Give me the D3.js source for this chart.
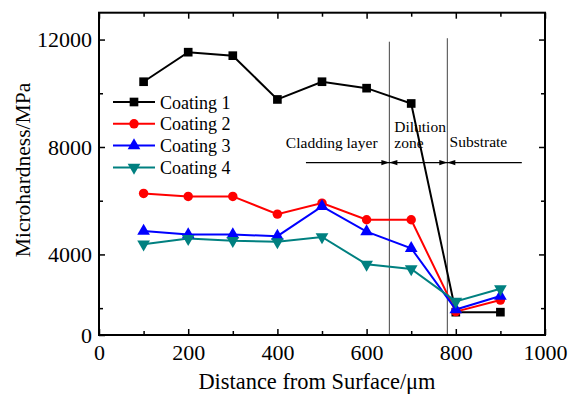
<!DOCTYPE html>
<html>
<head>
<meta charset="utf-8">
<script src="https://cdn.jsdelivr.net/npm/d3@7"></script>
<style>
  body { margin: 0; background: #fff; }
  svg { display: block; font-family: "Liberation Serif", "Times New Roman", serif; }
</style>
</head>
<body>
<div class="chart"></div>
<script>
// data
const distances = [100, 200, 300, 400, 500, 600, 700, 800, 900];
const coating1 = [10430, 11530, 11400, 9770, 10430, 10190, 9620, 1850, 1850];
const coating2 = [6270, 6160, 6160, 5500, 5910, 5290, 5290, 1870, 2300];
const coating3 = [4870, 4740, 4740, 4680, 5790, 4850, 4230, 1950, 2450];
const coating4 = [4380, 4590, 4510, 4470, 4650, 3630, 3460, 2250, 2720];
const seriesNames = ["Coating 1", "Coating 2", "Coating 3", "Coating 4"];
const xTicks = [0, 200, 400, 600, 800, 1000];
const yTicks = [1000, 4000, 8000, 12000];
const yTickLabels = ["0", "4000", "8000", "12000"];
const zoneBounds = [651, 781];
const zoneNames = ["Cladding layer", "Dilution", "zone", "Substrate"];

function init(){
    const w = 575, h = 394;
    const margin = {top: 12.7, right: 30, bottom: 59, left: 99};

    const svg = d3.select(".chart").append("svg").attr("width", w).attr("height", h);

    const x = d3.scaleLinear().domain([0, 1000]).range([margin.left, w - margin.right]);
    const y = d3.scaleLinear().domain([1000, 13000]).range([h - margin.bottom, margin.top]);

    const colors = ["#000000", "#ff0000", "#0000ff", "#008080"];
    const shapes = [d3.symbolSquare, d3.symbolCircle, d3.symbolTriangle, d3.symbolTriangle];
    const sizes = [75, 70, 70, 70];
    const rotate = [0, 0, 0, 180];

    const series = [coating1, coating2, coating3, coating4].map((vals, i) => ({
        name: seriesNames[i],
        points: distances.map((d, j) => ({x: d, y: vals[j]}))
    }));

    // zone boundary lines
    svg.selectAll(".zone")
      .data(zoneBounds)
      .join("line")
      .attr("x1", d => x(d)).attr("x2", d => x(d))
      .attr("y1", (d, i) => y(i == 0 ? 11920 : 12050))
      .attr("y2", y(1000))
      .attr("stroke", "#444").attr("stroke-width", 1);

    // arrows across zones
    const ay = y(7420);
    svg.append("line").attr("x1", x(464)).attr("x2", x(948))
      .attr("y1", ay).attr("y2", ay).attr("stroke", "#000").attr("stroke-width", 1.2);
    function arrowHead(px, dir){
        svg.append("path")
          .attr("d", `M${px},${ay} L${px - dir * 8},${ay - 2.6} L${px - dir * 8},${ay + 2.6} Z`)
          .attr("fill", "#000");
    }
    arrowHead(x(zoneBounds[0]), 1);
    arrowHead(x(zoneBounds[0]), -1);
    arrowHead(x(zoneBounds[1]), 1);
    arrowHead(x(zoneBounds[1]), -1);

    svg.append("text").attr("x", x(419)).attr("y", y(7980)).attr("font-size", 15.5).text(zoneNames[0]);
    svg.append("text").attr("x", x(662)).attr("y", y(8540)).attr("font-size", 15.5).text(zoneNames[1]);
    svg.append("text").attr("x", x(662)).attr("y", y(7960)).attr("font-size", 15.5).text(zoneNames[2]);
    svg.append("text").attr("x", x(786)).attr("y", y(7990)).attr("font-size", 15.5).text(zoneNames[3]);

    // lines
    const line = d3.line().x(d => x(d.x)).y(d => y(d.y));
    series.forEach((s, i) => {
        svg.append("path")
          .datum(s.points)
          .attr("d", line)
          .attr("fill", "none")
          .attr("stroke", colors[i])
          .attr("stroke-width", 2);
    });
    series.forEach((s, i) => {
        svg.selectAll(".m" + i)
          .data(s.points)
          .join("path")
          .attr("class", "m" + i)
          .attr("d", d3.symbol().type(shapes[i]).size(sizes[i]))
          .attr("transform", d => `translate(${x(d.x)},${y(d.y)}) rotate(${rotate[i]})`)
          .attr("fill", colors[i]);
    });

    // axes
    const plotH = y(1000) - y(13000);
    const plotW = x(1000) - x(0);
    const xMinor = d3.range(100, 1000, 200);
    const yMinor = [2000, 6000, 10000];

    const bottom = svg.append("g").attr("transform", `translate(0,${y(1000)})`);
    bottom.call(d3.axisBottom(x).tickValues(xTicks).tickSize(-6).tickPadding(9).tickFormat(d3.format("d")));
    bottom.append("g").call(d3.axisBottom(x).tickValues(xMinor).tickSize(-4).tickFormat(""));

    const top = svg.append("g").attr("transform", `translate(0,${y(13000)})`);
    top.call(d3.axisTop(x).tickValues(xTicks).tickSize(-6).tickFormat(""));
    top.append("g").call(d3.axisTop(x).tickValues(xMinor).tickSize(-4).tickFormat(""));

    const left = svg.append("g").attr("transform", `translate(${x(0)},0)`);
    left.call(d3.axisLeft(y).tickValues(yTicks).tickSize(-6).tickPadding(7).tickFormat((d, i) => yTickLabels[i]));
    left.append("g").call(d3.axisLeft(y).tickValues(yMinor).tickSize(-4).tickFormat(""));

    const right = svg.append("g").attr("transform", `translate(${x(1000)},0)`);
    right.call(d3.axisRight(y).tickValues(yTicks.slice(1)).tickSize(-6).tickFormat(""));
    right.append("g").call(d3.axisRight(y).tickValues(yMinor).tickSize(-4).tickFormat(""));

    svg.selectAll(".domain").attr("stroke", "none");
    svg.selectAll(".tick line").attr("stroke", "#000").attr("stroke-width", 1.5);
    svg.selectAll("g").attr("font-family", null);
    svg.selectAll(".tick text").style("font-family", "'Liberation Serif', serif").attr("font-size", 22).attr("fill", "#000");

    svg.append("rect")
      .attr("x", x(0)).attr("y", y(13000))
      .attr("width", plotW).attr("height", plotH)
      .attr("fill", "none").attr("stroke", "#000").attr("stroke-width", 2);

    // axis titles
    svg.append("text")
      .attr("x", (x(0) + x(1000)) / 2 - 5).attr("y", 389)
      .attr("text-anchor", "middle").attr("font-size", 22.4)
      .text("Distance from Surface/\u03bcm");
    svg.append("text")
      .attr("transform", `translate(30,${(83 + 257) / 2}) rotate(-90)`)
      .attr("text-anchor", "middle").attr("font-size", 21.5)
      .text("Microhardness/MPa");

    // legend
    const legend = svg.append("g").attr("transform", "translate(113,102)");
    series.forEach((s, i) => {
        const g = legend.append("g").attr("transform", `translate(0,${i * 21.8})`);
        g.append("line").attr("x1", 0).attr("x2", 42).attr("y1", 0).attr("y2", 0)
          .attr("stroke", colors[i]).attr("stroke-width", 2);
        g.append("path")
          .attr("d", d3.symbol().type(shapes[i]).size(sizes[i]))
          .attr("transform", `translate(21,0) rotate(${rotate[i]})`)
          .attr("fill", colors[i]);
        g.append("text").attr("x", 47).attr("y", 6.5).attr("font-size", 18).text(s.name);
    });
}
window.onload = init;
</script>
</body>
</html>
